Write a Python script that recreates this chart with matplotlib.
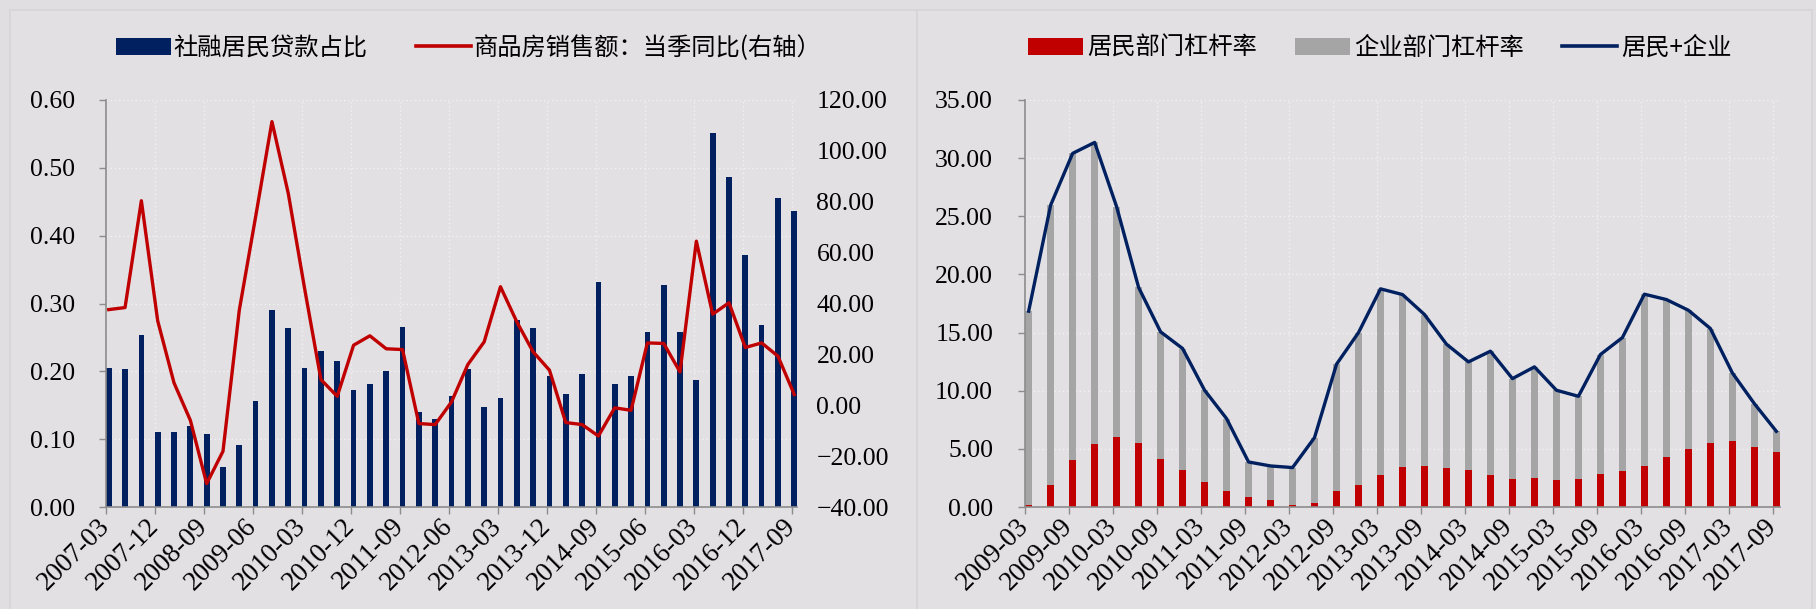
import matplotlib
matplotlib.use('Agg')
import matplotlib.pyplot as plt
import matplotlib.ticker as mticker
from matplotlib.patches import Patch, Rectangle
from matplotlib.lines import Line2D
import numpy as np
import pandas as pd

# ── data ─────────────────────────────────────────────────────────────────────
# left panel: quarterly, 2007-03 .. 2017-09
loan_share = [0.205, 0.203, 0.253, 0.110, 0.110, 0.119, 0.108, 0.059, 0.091, 0.156,
              0.291, 0.264, 0.205, 0.230, 0.215, 0.172, 0.181, 0.201, 0.266, 0.140,
              0.130, 0.164, 0.204, 0.147, 0.160, 0.276, 0.264, 0.193, 0.167, 0.196,
              0.331, 0.181, 0.193, 0.258, 0.328, 0.258, 0.187, 0.552, 0.487, 0.372,
              0.268, 0.456, 0.437]
sales_yoy = [37.6, 38.4, 80.4, 33.2, 8.8, -5.9, -30.8, -18.1, 37.4, 74.1,
             111.5, 83.3, 45.9, 10.1, 3.5, 23.6, 27.3, 22.2, 21.9, -7.2,
             -7.6, 1.3, 16.0, 24.9, 46.6, 32.8, 21.0, 13.8, -6.8, -7.6,
             -12.1, -1.0, -2.0, 24.5, 24.3, 13.1, 64.5, 35.8, 40.3, 22.7,
             24.5, 19.3, 4.2]

# right panel: quarterly, 2009-03 .. 2017-09
household_lev = [0.15, 1.92, 4.07, 5.39, 6.02, 5.48, 4.10, 3.16, 2.15, 1.38,
                 0.86, 0.57, 0.20, 0.34, 1.35, 1.86, 2.73, 3.44, 3.50, 3.36,
                 3.21, 2.73, 2.38, 2.50, 2.29, 2.38, 2.81, 3.13, 3.53, 4.30,
                 5.02, 5.51, 5.65, 5.16, 4.73]
corporate_lev = [16.69, 24.04, 26.34, 25.96, 19.80, 13.40, 10.96, 10.47, 7.89, 6.22,
                 3.01, 2.96, 3.19, 5.63, 10.93, 13.14, 16.03, 14.83, 13.05, 10.64,
                 9.27, 10.67, 8.66, 9.55, 7.75, 7.14, 10.30, 11.44, 14.77, 13.54,
                 11.90, 9.84, 5.88, 3.73, 1.78]

left_dates = pd.date_range('2007-03-31', periods=len(loan_share), freq='QE')
right_dates = pd.date_range('2009-03-31', periods=len(household_lev), freq='QE')

# ── style ────────────────────────────────────────────────────────────────────
BG = '#E0DEE1'
NAVY = '#002060'
RED = '#C00000'
GREY = '#A5A5A5'
NUM_FONT = 'Liberation Serif'
CJK_FONT = ['Noto Sans CJK SC', 'DejaVu Sans']
TICK_FS = 18.5
XTICK_FS = 19.5
LEG_FS = 17.5


def money(fmt):
    return mticker.FuncFormatter(lambda v, _: fmt.format(v).replace('-', '\u2212'))


def style_axis(ax, xmax, tick_every, labels, ylim, ystep, ypad):
    ax.set_facecolor('none')
    ax.set_xlim(0, xmax)
    ax.set_ylim(*ylim)
    ax.set_yticks(np.arange(ylim[0], ylim[1] + ystep / 2, ystep))
    ax.set_xticks(np.arange(0, xmax, tick_every))
    ax.set_xticklabels(labels, rotation=45, ha='right', va='center',
                       rotation_mode='anchor', fontfamily=NUM_FONT,
                       fontsize=XTICK_FS)
    for s in ('top', 'right'):
        ax.spines[s].set_visible(False)
    for s in ('left', 'bottom'):
        ax.spines[s].set_color('#8C8C8C')
        ax.spines[s].set_linewidth(1.2)
    ax.tick_params(axis='x', direction='out', length=5, width=1.0,
                   color='#8C8C8C', pad=6)
    ax.tick_params(axis='y', direction='out', length=5, width=1.0,
                   color='#8C8C8C', pad=ypad, labelsize=TICK_FS)
    for t in ax.get_yticklabels():
        t.set_fontfamily(NUM_FONT)
    ax.grid(True, color='#F2F2F2', linestyle=(0, (1, 2)), linewidth=1.0)
    ax.set_axisbelow(True)


fig = plt.figure(figsize=(18.16, 6.09), dpi=100, facecolor=BG)

# panel frames
W, H = 1816, 609
for x0, x1 in ((10, 917), (917, 1812)):
    fig.patches.append(Rectangle((x0 / W, -0.05), (x1 - x0) / W, 1 - 10 / H + 0.05,
                                 transform=fig.transFigure, facecolor='#E2E0E3',
                                 edgecolor='#D6D4D7', linewidth=1.2, zorder=-1))

# ── left panel ───────────────────────────────────────────────────────────────
ax = fig.add_axes([106 / W, 1 - 507 / H, (797 - 106) / W, (507 - 100) / H])
x_left = np.arange(len(loan_share)) * 3 + 0.5
ax.bar(x_left, loan_share, width=1.05, color=NAVY, zorder=2)
left_labels = [d.strftime('%Y-%m') for d in left_dates[::3]]
style_axis(ax, 127, 9, left_labels, (0, 0.6), 0.1, 17)
ax.yaxis.set_major_formatter(money('{:.2f}'))

ax2 = ax.twinx()
ax2.plot(x_left, sales_yoy, color=RED, linewidth=2.4, zorder=3)
ax2.set_ylim(-40, 120)
ax2.set_yticks(np.arange(-40, 121, 20))
ax2.yaxis.set_major_formatter(money('{:.2f}'))
ax2.tick_params(axis='y', length=0, pad=14, labelsize=TICK_FS)
for t in ax2.get_yticklabels():
    t.set_fontfamily(NUM_FONT)
for s in ax2.spines.values():
    s.set_visible(False)

left_handles = [Patch(facecolor=NAVY, edgecolor='none'),
                Line2D([], [], color=RED, linewidth=2.6)]
fig.legend(left_handles, ['社融居民贷款占比', '商品房销售额：当季同比(右轴）'],
           loc='center left', bbox_to_anchor=(116 / W, 1 - 48 / H), ncol=2,
           frameon=False, borderpad=0, borderaxespad=0,
           handlelength=2.25, handleheight=0.7, handletextpad=0.12,
           columnspacing=2.0, prop={'family': CJK_FONT, 'size': LEG_FS})

# ── right panel ──────────────────────────────────────────────────────────────
axr = fig.add_axes([1025 / W, 1 - 507 / H, (1780 - 1025) / W, (507 - 100) / H])
x_right = np.arange(len(household_lev)) * 3 + 0.5
total_lev = np.add(household_lev, corporate_lev)
axr.bar(x_right, household_lev, width=0.9, color=RED, zorder=2)
axr.bar(x_right, corporate_lev, width=0.9, bottom=household_lev, color=GREY, zorder=2)
axr.plot(x_right, total_lev, color=NAVY, linewidth=2.4, zorder=3)
right_labels = [d.strftime('%Y-%m') for d in right_dates[::2]]
style_axis(axr, 103, 6, right_labels, (0, 35), 5, 18)
axr.yaxis.set_major_formatter(money('{:.2f}'))

right_handles = [Patch(facecolor=RED, edgecolor='none'),
                 Patch(facecolor=GREY, edgecolor='none'),
                 Line2D([], [], color=NAVY, linewidth=2.6)]
fig.legend(right_handles, ['居民部门杠杆率', '企业部门杠杆率', '居民+企业'],
           loc='center left', bbox_to_anchor=(1028 / W, 1 - 48 / H), ncol=3,
           frameon=False, borderpad=0, borderaxespad=0,
           handlelength=2.25, handleheight=0.7, handletextpad=0.2,
           columnspacing=1.55, prop={'family': CJK_FONT, 'size': LEG_FS})

fig.savefig('out.png', dpi=100, facecolor=BG)
